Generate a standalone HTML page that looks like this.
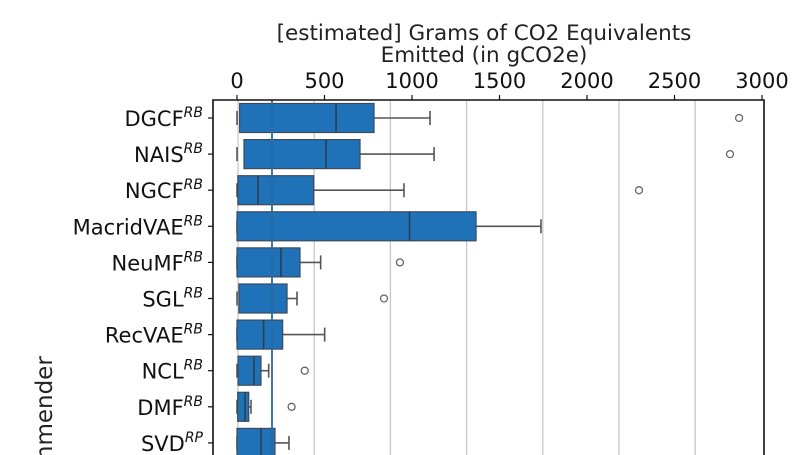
<!DOCTYPE html>
<html><head><meta charset="utf-8"><style>
html,body{margin:0;padding:0;background:#fff;overflow:hidden;width:808px;height:455px;}
svg{display:block;font-family:"DejaVu Sans","Liberation Sans",sans-serif;overflow:hidden;}
</style></head><body>
<svg id="chart" width="808" height="455" viewBox="0 0 808 455">
<defs><clipPath id="frameclip"><rect x="0" y="0" width="808" height="455"/></clipPath></defs>
<g clip-path="url(#frameclip)">
<g id="grid"></g>
<g id="boxes"></g>
<g id="axes"></g>
</g>
</svg>
<script>
const categories = ["DGCF","NAIS","NGCF","MacridVAE","NeuMF","SGL","RecVAE","NCL","DMF","SVD"];
const supers = ["RB","RB","RB","RB","RB","RB","RB","RB","RB","RP"];
const wLow = [0,0,0,0,0,0,0,0,0,0];
const q1 = [15,40,5,0,0,11,0,6,4,0];
const medians = [566,509,120,986,251,200,152,97,46,137];
const q3 = [783,703,438,1366,360,286,261,137,67,217];
const wHigh = [1103,1126,954,1737,478,343,501,181,80,297];
const outliers = [[2869],[2817],[2297],[],[931],[840],[],[387],[312],[]];
const xTicks = [0,500,1000,1500,2000,2500,3000];
const refLine = 200;

const NS="http://www.w3.org/2000/svg";
const x0=237, pxPer=0.175;
function xs(v){return x0+v*pxPer;}
const rowTop=118, rowStep=36.1;
function ys(i){return rowTop+i*rowStep;}
function mk(tag,attrs,parent){const e=document.createElementNS(NS,tag);for(const k in attrs)e.setAttribute(k,attrs[k]);parent.appendChild(e);return e;}
const grid=document.getElementById('grid'),boxes=document.getElementById('boxes'),axes=document.getElementById('axes');
const L=213,R=764,T=100,B=455;

for(let g=238;g<R;g+=76.2){
  const ln=mk('line',{x1:g,x2:g,y1:T,y2:B,stroke:'#c8c8c8','stroke-width':1.3},grid);
  
  
}

categories.forEach((c,i)=>{
  const y=ys(i), h=29;
  const g=mk('g',{},boxes);
  
  
  mk('line',{x1:xs(q3[i]),x2:xs(wHigh[i]),y1:y,y2:y,stroke:'#555','stroke-width':1.6},g);
  mk('line',{x1:xs(wHigh[i]),x2:xs(wHigh[i]),y1:y-7,y2:y+7,stroke:'#555','stroke-width':1.6},g);
  mk('line',{x1:xs(wLow[i]),x2:xs(wLow[i]),y1:y-7,y2:y+7,stroke:'#555','stroke-width':1.6},g);
  mk('rect',{x:xs(q1[i]),y:y-h/2,width:xs(q3[i])-xs(q1[i]),height:h,fill:'#1f72b8',stroke:'#3c4a5c','stroke-width':1.2},g);
  mk('line',{x1:xs(medians[i]),x2:xs(medians[i]),y1:y-h/2,y2:y+h/2,stroke:'#2c3e50','stroke-width':1.6},g);
  outliers[i].forEach(o=>{
    const c2=mk('circle',{cx:xs(o),cy:y,r:3.5,fill:'none',stroke:'#666','stroke-width':1.3},g);
    
    
  });
  const t=mk('text',{x:203,y:y+8,'text-anchor':'end','font-size':21,fill:'#111'},axes);
  
  
  t.textContent=c;
  const s=mk('tspan',{dy:-9,'font-size':14,'font-style':'italic'},t);
  s.textContent=supers[i];
  mk('line',{x1:208,x2:L,y1:y,y2:y,stroke:'#111','stroke-width':1.2},axes);
});

const rl=mk('line',{x1:xs(refLine),x2:xs(refLine),y1:T,y2:B,stroke:'#2a6aa0','stroke-width':1.8},boxes);



const frame=mk('path',{d:`M${L},${B} L${L},${T} L${R},${T} L${R},${B}`,fill:'none',stroke:'#111','stroke-width':1.6},axes);



xTicks.forEach(v=>{
  mk('line',{x1:xs(v),x2:xs(v),y1:T-5,y2:T,stroke:'#111','stroke-width':1.2},axes);
  const t=mk('text',{x:xs(v),y:88,'text-anchor':'middle','font-size':21,fill:'#111'},axes);
  
  
  t.textContent=v;
});

const t1=mk('text',{x:484,y:40,'text-anchor':'middle','font-size':21.5,fill:'#222'},axes);


t1.textContent='[estimated] Grams of CO2 Equivalents';
const t2=mk('text',{x:484,y:62,'text-anchor':'middle','font-size':21.5,fill:'#222'},axes);


t2.textContent='Emitted (in gCO2e)';
const yl=mk('text',{x:0,y:0,'text-anchor':'middle','font-size':23,fill:'#222',transform:'translate(52,440) rotate(-90)'},axes);


yl.textContent='Recommender';
</script>
</body></html>
